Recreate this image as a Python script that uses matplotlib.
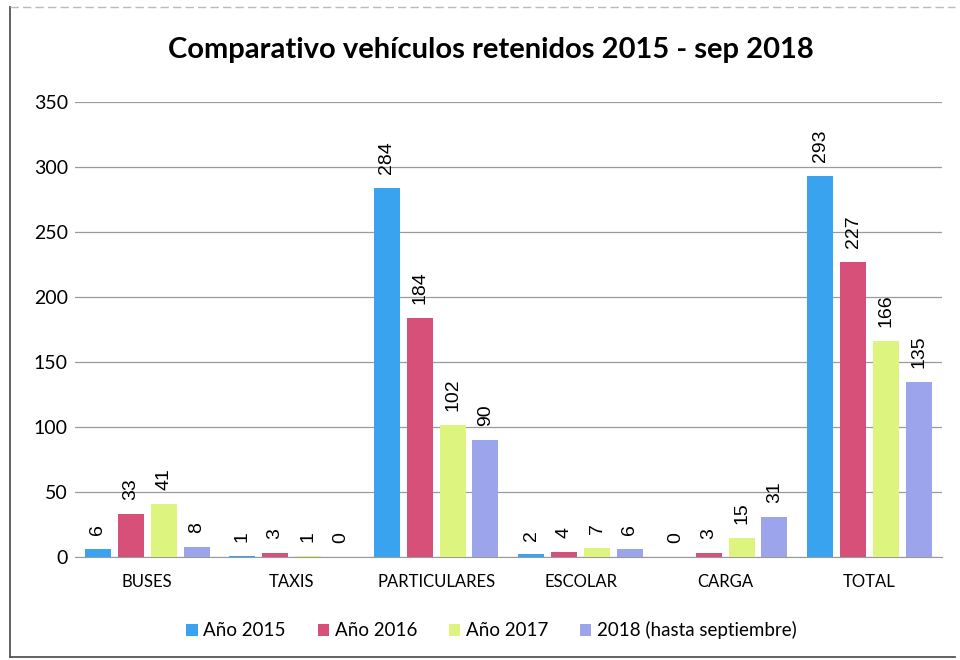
import numpy as np
import matplotlib
matplotlib.use("Agg")
import matplotlib.pyplot as plt
from matplotlib.lines import Line2D

categories = ["BUSES", "TAXIS", "PARTICULARES", "ESCOLAR", "CARGA", "TOTAL"]
series_names = ["Año 2015", "Año 2016", "Año 2017", "2018 (hasta septiembre)"]
vals_2015 = [6, 1, 284, 2, 0, 293]
vals_2016 = [33, 3, 184, 4, 3, 227]
vals_2017 = [41, 1, 102, 7, 15, 166]
vals_2018 = [8, 0, 90, 6, 31, 135]
yticks = [0, 50, 100, 150, 200, 250, 300, 350]

colors = ["#3aa3f0", "#d6507a", "#ddf57e", "#9ca4ec"]
series = [vals_2015, vals_2016, vals_2017, vals_2018]

plt.rcParams["font.family"] = ["Lato", "DejaVu Sans"]

fig = plt.figure(figsize=(9.6, 6.6), dpi=100)
ax = fig.add_axes([0.078, 0.156, 0.903, 0.689])

x = np.arange(len(categories))
width = 0.18
step = 0.228
for i, (vals, c, name) in enumerate(zip(series, colors, series_names)):
    pos = x + (i - 1.5) * step
    bars = ax.bar(pos, vals, width, color=c, label=name, zorder=3)
    for b, v in zip(bars, vals):
        ax.annotate(str(v), (b.get_x() + b.get_width() / 2, b.get_height()),
                    xytext=(0, 10), textcoords="offset points", rotation=90,
                    ha="center", va="bottom", fontsize=14,
                    family=["Liberation Sans", "DejaVu Sans"])

ax.set_xlim(-0.5, len(categories) - 0.5)
ax.set_ylim(0, 350)
ax.set_yticks(yticks)
ax.set_xticks(x)
ax.set_xticklabels(categories, fontsize=12)
ax.tick_params(axis="y", length=0, labelsize=14, pad=5)
ax.tick_params(axis="x", length=0, pad=12)
ax.yaxis.grid(True, color="#9a9a9a", linewidth=0.9, zorder=0)
for s in ["top", "right", "left"]:
    ax.spines[s].set_visible(False)
ax.spines["bottom"].set_color("#9a9a9a")

fig.text(0.511, 0.924, "Comparativo vehículos retenidos 2015 - sep 2018",
         ha="center", va="center", fontsize=21, fontweight="bold")

fig.legend(loc="center", bbox_to_anchor=(0.512, 0.045), ncol=4, frameon=False,
           fontsize=13.5, handlelength=0.6, handleheight=0.6, handletextpad=0.3,
           columnspacing=1.7)

# scanned frame: left and bottom edges, faint top edge
fig.add_artist(Line2D([0.01, 0.01], [0.005, 0.99], transform=fig.transFigure,
                      color="#555555", linewidth=1.3))
fig.add_artist(Line2D([0.01, 0.995], [0.005, 0.005], transform=fig.transFigure,
                      color="#555555", linewidth=1.3))
fig.add_artist(Line2D([0.01, 0.995], [0.99, 0.99], transform=fig.transFigure,
                      color="#bbbbbb", linewidth=1.0, linestyle=(0, (6, 3))))

fig.savefig("out.png", dpi=100)
